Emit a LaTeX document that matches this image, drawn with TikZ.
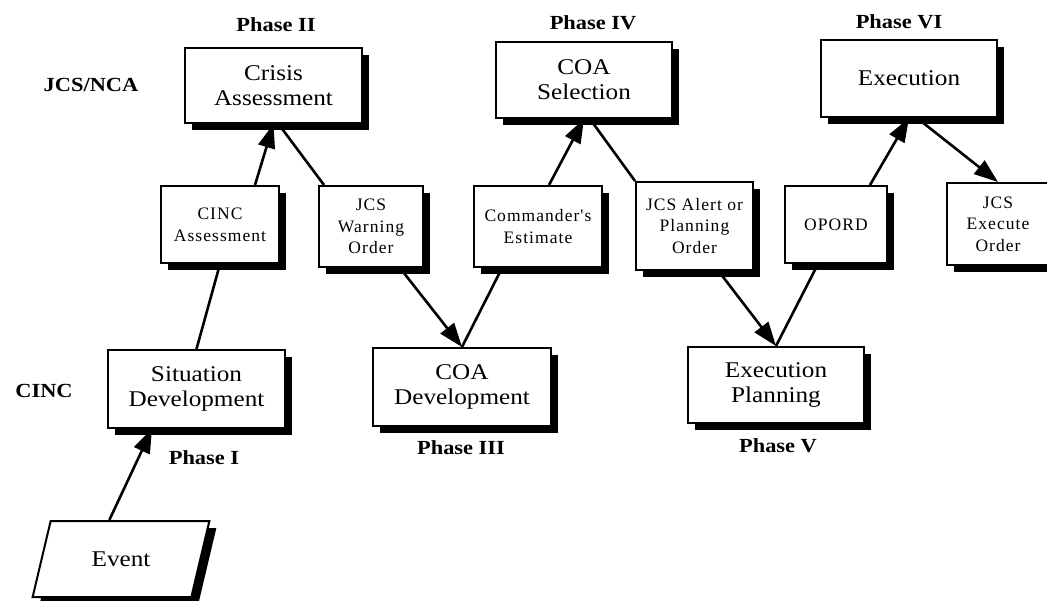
\documentclass[tikz,border=0pt]{standalone}
\usepackage{fontspec}
\setmainfont{Liberation Serif}
\newfontfamily\serifwide{Liberation Serif}[FakeStretch=1.12]
\newfontfamily\seriftrack{Liberation Serif}[LetterSpace=6]
\newcommand\bigtext{\serifwide\fontsize{22.5}{25}\selectfont}
\newcommand\smalltext{\seriftrack\fontsize{17.5}{21.7}\selectfont}
\newcommand\labeltext{\serifwide\bfseries\fontsize{20}{24}\selectfont}
\usetikzlibrary{shadows,shapes.geometric,arrows.meta,calc}

\tikzset{
  stage/.style={draw, line width=2pt, fill=white, align=center, inner sep=2pt,
    font=\bigtext,
    drop shadow={shadow xshift=7pt, shadow yshift=-7pt, fill=black, opacity=1}},
  doc/.style={stage, font=\smalltext},
  lane/.style={font=\labeltext, inner sep=0pt},
  flow/.style={line width=2.6pt},
  push/.style={flow, -{Triangle[length=24pt,width=17pt]}}
}

\begin{document}
\begin{tikzpicture}[x=1pt, y=-1pt]
\clip (0,0) rectangle (1047,601);
\fill[white] (0,0) rectangle (1047,601);

% top row: JCS/NCA decisions
\node[stage, minimum width=177, minimum height=75] (crisis) at (273.5,85.5) {Crisis\\Assessment};
\node[stage, minimum width=176, minimum height=76] (coasel) at (584,80) {COA\\Selection};
\node[stage, minimum width=176, minimum height=77] (exec)   at (909,78.5) {Execution};

% middle row: documents passed between levels
\node[doc, minimum width=118, minimum height=77] (cincA)   at (220,224.5) {CINC\\Assessment};
\node[doc, minimum width=104, minimum height=81] (warn)    at (371,226.5) {JCS\\Warning\\Order};
\node[doc, minimum width=128, minimum height=81] (est)     at (538,226.5) {Commander's\\Estimate};
\node[doc, minimum width=117, minimum height=88] (alert)   at (694.5,226) {JCS Alert or\\Planning\\Order};
\node[doc, minimum width=102, minimum height=77] (opord)   at (836,224.5) {OPORD};
\node[doc, minimum width=102, minimum height=82] (execord) at (998,224) {JCS\\Execute\\Order};

% bottom row: CINC work
\node[stage, minimum width=177, minimum height=78] (sitdev)   at (196.5,389) {Situation\\Development};
\node[stage, minimum width=178, minimum height=78] (coadev)   at (462,387) {COA\\Development};
\node[stage, minimum width=176, minimum height=76] (execplan) at (776,385) {Execution\\Planning};

% triggering event
\node[stage, trapezium, trapezium left angle=67, trapezium right angle=113,
      trapezium stretches=true, minimum width=178, minimum height=76] (event) at (121,559) {Event};

% level and phase labels
\node[lane] (lvltop) at (91,85)  {JCS/NCA};
\node[lane] (lvlbot) at (44,391) {CINC};
\node[lane] (ph1) at (204,458)  {Phase I};
\node[lane] (ph2) at (276,25)   {Phase II};
\node[lane] (ph3) at (461,447.5){Phase III};
\node[lane] (ph4) at (593,23)   {Phase IV};
\node[lane] (ph5) at (778,446)  {Phase V};
\node[lane] (ph6) at (899,22)   {Phase VI};

% connectors
\draw[push] ($(event.top left corner)!0.37!(event.top right corner)$) -- ([xshift=-44.5pt]sitdev.south);
\draw[flow] (sitdev.north) -- (cincA.south);
\draw[push] ([xshift=35pt]cincA.north) -- (crisis.south);
\draw[flow] ([xshift=5pt]crisis.south) -- ([xshift=6pt]warn.north west);
\draw[push] ([xshift=29pt]warn.south) -- (coadev.north);
\draw[flow] ([xshift=-36pt]est.south) -- (coadev.north);
\draw[push] ([xshift=11pt]est.north) -- (coasel.south);
\draw[flow] ([xshift=6pt]coasel.south) -- (alert.north west);
\draw[push] ([xshift=24pt]alert.south) -- (execplan.north);
\draw[flow] ([xshift=-18pt]opord.south) -- (execplan.north);
\draw[push] ([xshift=34pt]opord.north) -- (exec.south);
\draw[push] ([xshift=8pt]exec.south) -- (execord.north);
\end{tikzpicture}
\end{document}
